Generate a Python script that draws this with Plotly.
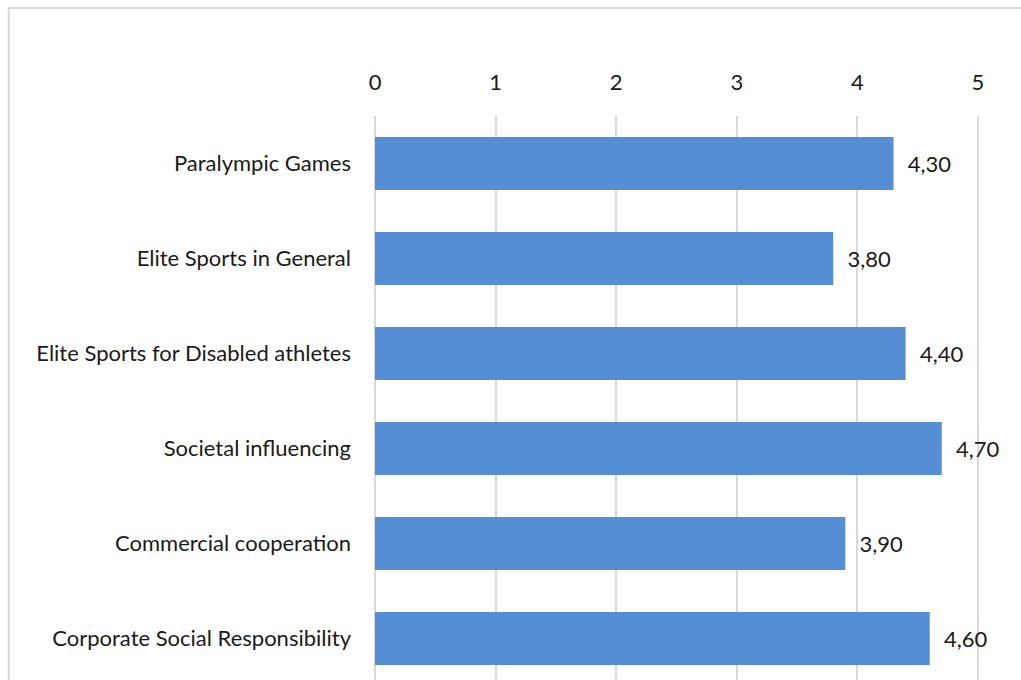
import plotly.graph_objects as go

# Mean ratings per category
categories = [
    "Paralympic Games",
    "Elite Sports in General",
    "Elite Sports for Disabled athletes",
    "Societal influencing",
    "Commercial cooperation",
    "Corporate Social Responsibility",
]
scores = [4.30, 3.80, 4.40, 4.70, 3.90, 4.60]
x_ticks = [0, 1, 2, 3, 4, 5]

W, H = 1021, 680
left, top = 375, 116
unit_px = 120.5          # horizontal pixels per rating point
x_max = 5.05             # a little room past 5 so its gridline shows
plot_w = unit_px * x_max
plot_h = H - top
band = 95.0              # pixels per category row

font_family = "Lato, 'Open Sans', sans-serif"
font_size = 22
ink = "#1a1a1a"
grid = "#d9d9d9"

fig = go.Figure(
    go.Bar(
        x=scores,
        y=categories,
        orientation="h",
        width=0.56,
        marker=dict(color="#558ed5", line=dict(width=0)),
        texttemplate="  %{x:.2f}",
        textposition="outside",
        constraintext="none",
        cliponaxis=False,
        textfont=dict(family=font_family, size=font_size, color=ink),
        hoverinfo="skip",
    )
)

fig.update_layout(
    width=W,
    height=H,
    margin=dict(l=left, r=W - left - plot_w, t=top, b=0, pad=0),
    paper_bgcolor="white",
    plot_bgcolor="white",
    separators=", ",
    showlegend=False,
    font=dict(family=font_family, size=font_size, color=ink),
    xaxis=dict(
        side="top",
        range=[0, x_max],
        tickvals=x_ticks,
        ticktext=[str(v) for v in x_ticks],
        showgrid=True,
        gridcolor=grid,
        gridwidth=2,
        zeroline=True,
        zerolinecolor=grid,
        zerolinewidth=2,
        showline=False,
        ticks="",
        ticklabelstandoff=21,
        tickfont=dict(family=font_family, size=font_size, color=ink),
        fixedrange=True,
    ),
    yaxis=dict(
        type="category",
        categoryorder="array",
        categoryarray=categories,
        range=[-0.5 + plot_h / band, -0.5],
        showgrid=False,
        zeroline=False,
        showline=False,
        ticks="",
        ticklabelstandoff=23,
        tickfont=dict(family=font_family, size=font_size, color=ink),
        fixedrange=True,
    ),
    shapes=[
        # outer chart frame (top and left edges visible)
        dict(
            type="rect",
            xref="paper",
            yref="paper",
            x0=(9 - left) / plot_w,
            x1=(1040 - left) / plot_w,
            y0=-0.1,
            y1=(H - 8) / plot_h,
            line=dict(color=grid, width=2),
            fillcolor="rgba(0,0,0,0)",
            layer="below",
        )
    ],
)

fig.write_html("out.html")
